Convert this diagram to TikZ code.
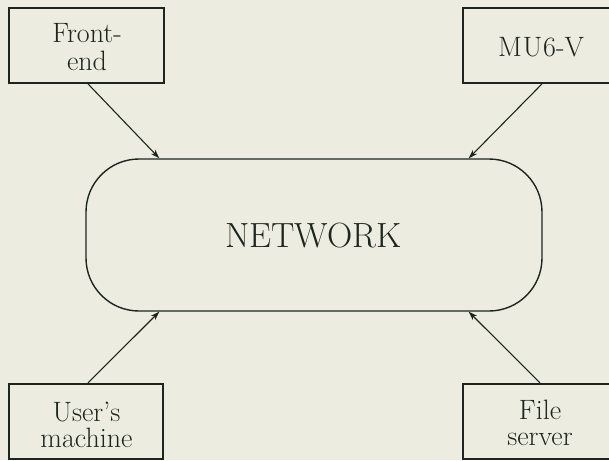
\documentclass[tikz,border=0pt]{standalone}
\usetikzlibrary{arrows.meta,calc}
\definecolor{paper}{HTML}{EDECE0}
\definecolor{ink}{HTML}{1C261F}
\tikzset{
  unitbox/.style={draw=ink, line width=1.8pt, rectangle, inner sep=0pt,
    minimum height=75pt},
  boxtext/.style={text=ink, align=center, inner sep=0pt,
    font=\fontsize{28}{28}\selectfont},
  netbox/.style={draw=ink, line width=1.4pt, rectangle, rounded corners=53pt,
    minimum width=456pt, minimum height=152pt, inner sep=0pt},
  link/.style={draw=ink, line width=1.1pt,
    -{Stealth[length=9pt,width=6pt]}},
}
\begin{document}
\begin{tikzpicture}[x=1pt,y=-1pt]
  \useasboundingbox (0,0) rectangle (609,460);
  \fill[paper] (0,0) rectangle (609,460);
  \clip (0,0) rectangle (609,460);

  % central network
  \node[netbox] (net) at (314,235) {};
  \node[text=ink, inner sep=0pt, font=\fontsize{35}{40}\selectfont]
    (net-t) at (313.5,235.8) {NETWORK};

  % machines around it
  \node[unitbox, minimum width=155pt] (fe) at (86.5,45.5) {};
  \node[boxtext] (fe-t) at (87,47.5) {Front-\\end};

  \node[unitbox, minimum width=158pt] (mu) at (542,45.5) {};
  \node[boxtext] (mu-t) at (541,47.4) {M\kern1ptU\kern1pt6-V};

  \node[unitbox, minimum width=154pt] (um) at (86,421.3) {};
  \node[boxtext, font=\fontsize{28}{26}\selectfont] (um-t) at (86.5,425) {User's\\machine};

  \node[unitbox, minimum width=158pt] (fs) at (542,421.3) {};
  \node[boxtext, font=\fontsize{28}{26}\selectfont] (fs-t) at (540,423.3) {File\\server};

  % attachment points on the network outline
  \coordinate (in-nw) at ($(net.north west)+(74,0)$);
  \coordinate (in-ne) at ($(net.north east)+(-74,0)$);
  \coordinate (in-sw) at ($(net.south west)+(74,0)$);
  \coordinate (in-se) at ($(net.south east)+(-74,0)$);

  \draw[link] ([xshift=1.5pt]fe.south) -- (in-nw);
  \draw[link] (mu.south) -- (in-ne);
  \draw[link] ([xshift=2pt]um.north) -- (in-sw);
  \draw[link] ([xshift=-2pt]fs.north) -- (in-se);
\end{tikzpicture}
\end{document}
